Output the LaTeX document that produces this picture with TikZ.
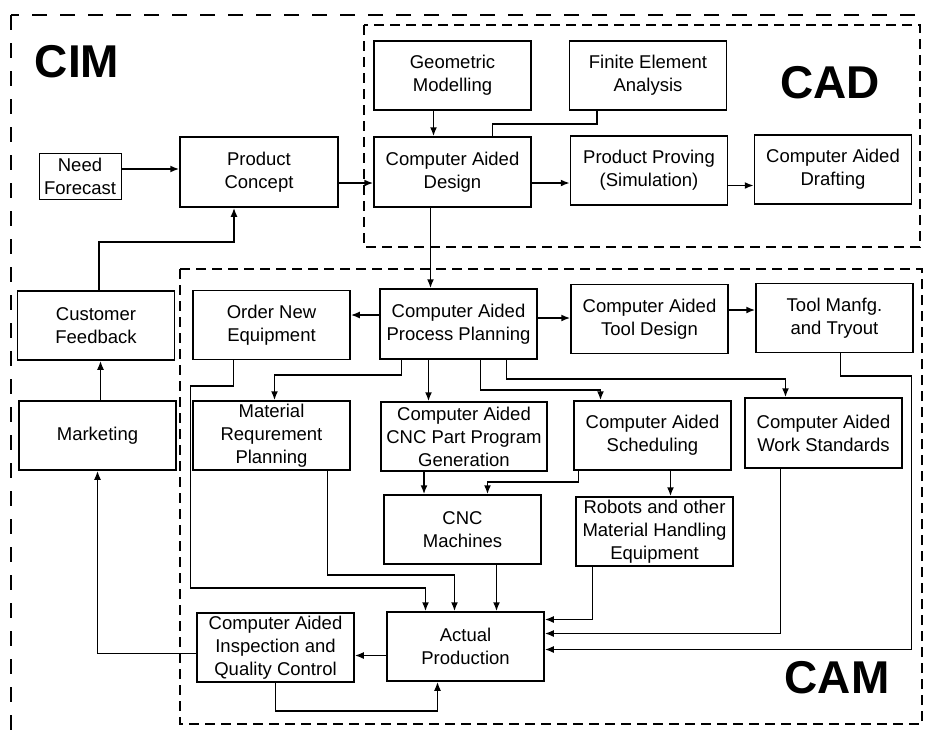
\documentclass[tikz,border=0pt]{standalone}
\usepackage{fontspec}
\setmainfont{Liberation Sans}
\usetikzlibrary{arrows.meta}

\begin{document}
\begin{tikzpicture}[x=1pt,y=-1pt,
	box/.style={draw,line width=1.5pt,minimum width=157pt,minimum height=69pt,inner sep=0pt,align=center,font=\fontsize{18.5}{23}\selectfont},
	big/.style={font=\fontsize{46}{50}\selectfont\bfseries},
	arr/.style={line width=1.7pt,-{Latex[length=9pt,width=7pt]}},
	ln/.style={line width=1.7pt},
	area/.style={line width=1.6pt,dash pattern=on 10pt off 6pt}]
\useasboundingbox (0,0) rectangle (928,734);
\begin{scope}
	\clip (0,0) rectangle (928,734);
	\draw[line width=1.8pt,dash pattern=on 15pt off 13pt] (11,15) rectangle (950,760);
\end{scope}
\draw[area] (364,25) rectangle (920,247);
\draw[area] (180,269) rectangle (922,724);
\node[big] (cim) at (77,62) {CIM};
\node[big] (cadl) at (830,83) {CAD};
\node[big] (caml) at (837,678) {CAM};

\node[box] (geo) at (452.5,75.5) {Geometric\\Modelling};
\node[box] (fea) at (648,75.5) {Finite Element\\Analysis};
\node[box,minimum height=70pt] (cadd) at (452.5,172) {Computer Aided\\Design};
\node[box] (prov) at (649,170.5) {Product Proving\\(Simulation)};
\node[box] (draft) at (833,169.5) {Computer Aided\\Drafting};
\node[box,minimum width=82pt,minimum height=46pt,line width=0.8pt] (need) at (80,176) {Need\\Forecast};
\node[box,minimum width=158pt,minimum height=70pt] (conc) at (259,172) {Product\\Concept};
\node[box] (feed) at (96,325.5) {Customer\\Feedback};
\node[box] (mkt) at (97.5,435.5) {Marketing};
\node[box] (order) at (271.5,325) {Order New\\Equipment};
\node[box,minimum height=70pt] (capp) at (458.5,324) {Computer Aided\\Process Planning};
\node[box] (tdes) at (649.5,319) {Computer Aided\\Tool Design};
\node[box] (tman) at (834.5,318) {Tool Manfg.\\and Tryout};
\node[box] (mrp) at (271.5,435.5) {Material\\Requrement\\Planning};
\node[box,minimum width=166pt] (cncp) at (464,436.5) {Computer Aided\\CNC Part Program\\Generation};
\node[box] (sched) at (652.5,435.5) {Computer Aided\\Scheduling};
\node[box,minimum height=70pt] (work) at (823.5,433) {Computer Aided\\Work Standards};
\node[box] (cncm) at (462.5,529.5) {CNC\\Machines};
\node[box] (rob) at (654.5,531.5) {Robots and other\\Material Handling\\Equipment};
\node[box] (act) at (465.5,646.5) {Actual\\Production};
\node[box] (insp) at (275.5,647.5) {Computer Aided\\Inspection and\\Quality Control};

\draw[arr] ([yshift=7pt]need.east) -- ([yshift=7pt]need.east -| conc.west);
\draw[arr] ([yshift=-11pt]conc.east) -- ([yshift=-11pt]conc.east -| cadd.west);
\draw[arr] ([xshift=-19pt]geo.south) -- ([xshift=-19pt]geo.south |- cadd.north);
\draw[ln] ([xshift=-51pt]fea.south) -- ++(0,13) -| ([xshift=40pt]cadd.north);
\draw[arr] ([yshift=-11pt]cadd.east) -- ([yshift=-11pt]cadd.east -| prov.west);
\draw[arr] ([yshift=-15pt]prov.east) -- ([yshift=-15pt]prov.east -| draft.west);
\draw[arr] ([xshift=-22pt]cadd.south) -- ([xshift=-22pt]cadd.south |- capp.north);
\draw[arr] ([xshift=3pt]feed.north) -- ++(0,-48) -| ([xshift=-25pt]conc.south);
\draw[arr] ([xshift=3pt]mkt.north) -- ([xshift=3pt]mkt.north |- feed.south);
\draw[arr] ([yshift=-6pt]insp.west) -| (mkt.south);
\draw[arr] ([yshift=9pt]capp.west) -- ([yshift=9pt]capp.west -| order.east);
\draw[arr] ([yshift=6pt]capp.east) -- ([yshift=6pt]capp.east -| tdes.west);
\draw[arr] ([yshift=9pt]tdes.east) -- ([yshift=9pt]tdes.east -| tman.west);
\draw[arr] ([xshift=-57pt]capp.south) -- ++(0,15) -| ([xshift=3pt]mrp.north);
\draw[arr] ([xshift=-30pt]capp.south) -- ([xshift=-30pt]capp.south |- cncp.north);
\draw[arr] ([xshift=22pt]capp.south) -- ++(0,30) -| ([xshift=-52pt]sched.north);
\draw[arr] ([xshift=48pt]capp.south) -- ++(0,19) -| ([xshift=-38pt]work.north);
\draw[arr] ([xshift=-38pt]order.south) -- ++(0,26) -- ++(-43,0) -- ++(0,202) -| ([xshift=-40pt]act.north);
\draw[arr] ([xshift=56pt]mrp.south) -- ++(0,104) -| ([xshift=-11pt]act.north);
\draw[arr] ([xshift=-40pt]cncp.south) -- ([xshift=-40pt]cncp.south |- cncm.north);
\draw[arr] ([xshift=-74pt]sched.south) -- ++(0,11) -| ([xshift=25pt]cncm.north);
\draw[arr] ([xshift=18pt]sched.south) -- ([xshift=18pt]sched.south |- rob.north);
\draw[arr] ([xshift=34pt]cncm.south) -- ([xshift=34pt]cncm.south |- act.north);
\draw[arr] ([xshift=-62pt]rob.south) |- ([yshift=27pt]act.east);
\draw[arr] ([xshift=-43pt]work.south) |- ([yshift=13pt]act.east);
\draw[arr] ([xshift=6pt]tman.south) -- ++(0,23) -- ++(71,0) |- ([yshift=-3pt]act.east);
\draw[arr] ([yshift=-9pt]act.west) -- ([yshift=-9pt]act.west -| insp.east);
\draw[arr] (insp.south) -- ++(0,28) -| ([xshift=-28pt]act.south);
\end{tikzpicture}
\end{document}
